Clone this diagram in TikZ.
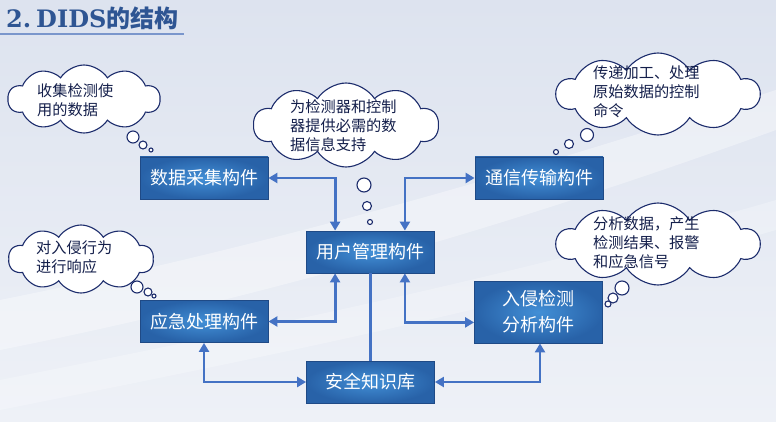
\documentclass[tikz,border=0pt]{standalone}
\usepackage{fontspec}
\setmainfont{Noto Sans CJK SC}
\newfontfamily\titlelat{DejaVu Serif}
\newfontfamily\cjk{Noto Sans CJK SC}
\usetikzlibrary{shapes.symbols,arrows.meta,calc}
\definecolor{bgtop}{HTML}{DDE3EF}
\definecolor{bgbot}{HTML}{EEF1F7}
\definecolor{titleblue}{HTML}{2E5593}
\definecolor{uline}{HTML}{7A96CC}
\definecolor{connblue}{HTML}{4472C4}
\definecolor{boxin}{HTML}{428FD6}
\definecolor{boxout}{HTML}{2862A8}
\definecolor{boxedge}{HTML}{1F4A86}
\definecolor{navy}{HTML}{1C2C6C}
\tikzset{
  comp/.style={draw=boxedge, line width=0.8pt, inner color=boxin, outer color=boxout,
    text=white, font=\fontsize{18}{26}\selectfont, minimum width=128pt, minimum height=42pt,
    inner sep=0pt, align=center},
  thought/.style={cloud, cloud puffs=10, cloud puff arc=115, cloud ignores aspect,
    draw=navy, fill=white, line width=1.1pt, inner sep=0pt},
  ctext/.style={anchor=west, align=left, text=navy!70!black, font=\fontsize{15.2}{19}\selectfont, inner sep=0pt},
  bub/.style={draw=navy, fill=white, line width=1.1pt},
  conn/.style={draw=connblue, line width=2.8pt},
  tips/.style={{Triangle[length=9pt,width=10pt]}-{Triangle[length=9pt,width=10pt]}}
}
\begin{document}
\begin{tikzpicture}[x=1pt,y=-1pt]
\useasboundingbox (0,0) rectangle (776,422);
% background
\shade[top color=bgtop, bottom color=bgbot] (0,0) rectangle (776,422);
\fill[white, opacity=0.35] (0,300) .. controls (250,250) and (500,180) .. (776,90) -- (776,130) .. controls (500,230) and (250,300) .. (0,350) -- cycle;
\fill[white, opacity=0.25] (0,380) .. controls (250,330) and (500,280) .. (776,200) -- (776,230) .. controls (500,310) and (250,360) .. (0,410) -- cycle;
% title
\node[anchor=west, inner sep=0pt, text=titleblue] (title) at (6,18)
  {\fontsize{24}{28}\selectfont\titlelat\bfseries 2.\hspace{5pt}DIDS\cjk\bfseries 的结构};
\coordinate (ulA) at (0,34);
\coordinate (ulB) at (184,34);
\draw[uline, line width=2pt] (ulA) -- (ulB);
% components
\node[comp] (dc) at (204,178) {数据采集构件};
\node[comp] (um) at (370.5,252) {用户管理构件};
\node[comp] (ct) at (539,178) {通信传输构件};
\node[comp] (er) at (204,321.5) {应急处理构件};
\node[comp, minimum height=62pt] (ids) at (538.5,312) {入侵检测\\分析构件};
\node[comp, minimum height=42pt] (kb) at (370.5,382) {安全知识库};
% helper coordinates
\path (um.north west) ++(29,0) coordinate (umNL);
\path (um.north east) ++(-30,0) coordinate (umNR);
\path (um.south west) ++(29,0) coordinate (umSL);
\path (um.south east) ++(-30,0) coordinate (umSR);
\path (ids.south west) ++(0,-21) coordinate (idsW);
\path (ids.south) ++(1.5,0) coordinate (idsS);
% connectors
\draw[conn, tips] (dc.east) -| (umNL);
\draw[conn, tips] (ct.west) -| (umNR);
\draw[conn, tips] (er.east) -| (umSL);
\draw[conn, tips] (idsW) -| (umSR);
\draw[conn] (um.south) -- (kb.north);
\draw[conn, tips] (er.south) |- (kb.west);
\draw[conn, tips] (idsS) |- (kb.east);
% clouds
\node[thought, minimum width=152pt, minimum height=68pt] (c1) at (84,99) {};
\node[ctext] (t1) at (37,100) {收集检测使\\用的数据};
\draw[bub] (133,137) circle[radius=6pt];
\draw[bub] (143,145) circle[radius=4pt];
\draw[bub] (151,150) circle[radius=2pt];

\node[thought, minimum width=185pt, minimum height=84pt] (c2) at (346,125) {};
\node[ctext] (t2) at (290,125.5) {为检测器和控制\\器提供必需的数\\据信息支持};
\draw[bub] (364,185) circle[radius=7pt];
\draw[bub] (367,206) circle[radius=4.5pt];
\draw[bub] (370,222) circle[radius=2.5pt];

\node[thought, minimum width=203pt, minimum height=82pt] (c3) at (658,94) {};
\node[ctext] (t3) at (593,92) {传递加工、处理\\原始数据的控制\\命令};
\draw[bub] (587,135) circle[radius=6.5pt];
\draw[bub] (569,144) circle[radius=4.5pt];
\draw[bub] (556,152) circle[radius=2.5pt];

\node[thought, minimum width=145pt, minimum height=68pt] (c4) at (81,259) {};
\node[ctext] (t4) at (36,257.5) {对入侵行为\\进行响应};
\draw[bub] (137,287) circle[radius=6pt];
\draw[bub] (148,292) circle[radius=4pt];
\draw[bub] (154,296) circle[radius=2pt];

\node[thought, minimum width=203pt, minimum height=82pt] (c5) at (658,244) {};
\node[ctext] (t5) at (593,243) {分析数据，产生\\检测结果、报警\\和应急信号};
\draw[bub] (622,288) circle[radius=7pt];
\draw[bub] (613,298) circle[radius=5pt];
\draw[bub] (608,304) circle[radius=3pt];
\end{tikzpicture}
\end{document}
